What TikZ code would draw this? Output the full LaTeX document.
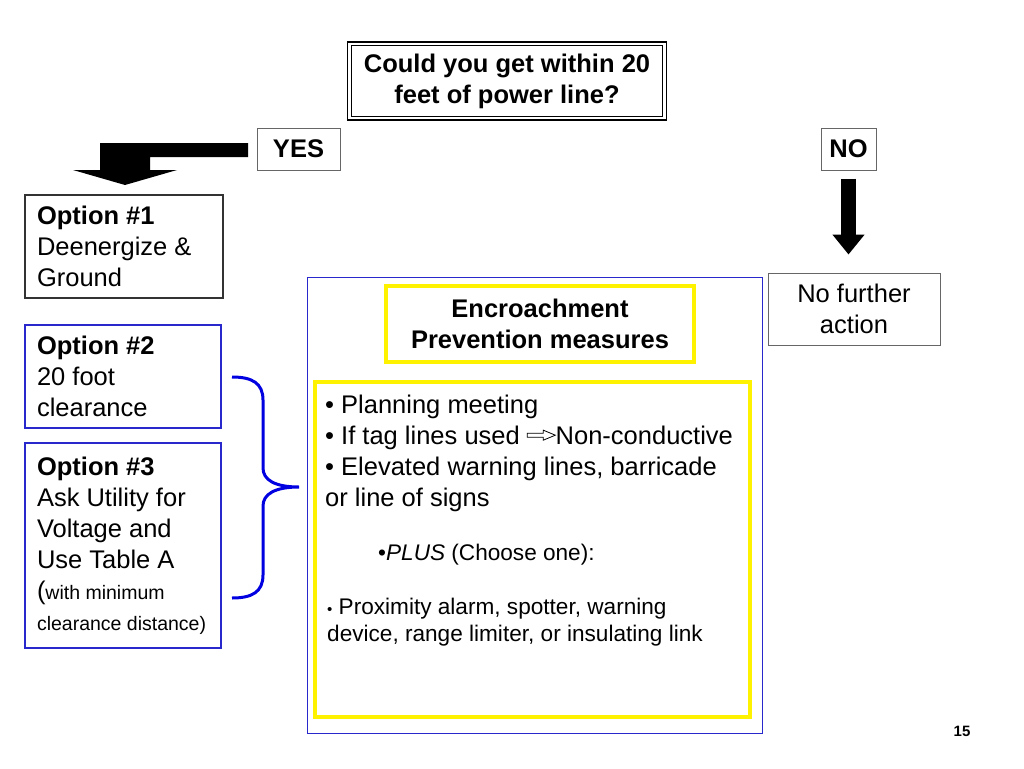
\documentclass[tikz,border=0pt]{standalone}
\usepackage{fontspec}
\setmainfont{Liberation Sans}
\usetikzlibrary{arrows.meta}
\definecolor{optblue}{RGB}{40,40,205}
\definecolor{bracecol}{RGB}{0,0,225}
\newcommand{\bodysize}{\fontsize{25.5}{31}\selectfont}
\newcommand{\smallsize}{\fontsize{22.6}{27.5}\selectfont}
\newcommand{\tinysize}{\fontsize{19.5}{31}\selectfont}
\newcommand{\hollowarrow}{\tikz[baseline={(0,9)}]{\draw[line width=0.8pt] (0,-2) -- (16,-2) -- (16,-5) -- (28,0) -- (16,5) -- (16,2) -- (0,2) -- cycle;}}
\tikzset{every picture/.style={x=1pt,y=-1pt,every node/.style={font=\bodysize,inner sep=0pt}},
  graybox/.style={draw=black!60, line width=1pt},
  optbox/.style={draw=optblue, line width=1.2pt, text width=172pt, inner xsep=12pt, align=flush left},
  yellowbox/.style={draw=yellow, line width=4pt},
  txt/.style={anchor=north west, align=left}}

\begin{document}
\begin{tikzpicture}
            \useasboundingbox (0,0) rectangle (1024,768);

            % question and answers
            \node[draw, double, line width=1.2pt, double distance=2.6pt, minimum width=315pt, minimum height=74pt,
                  align=center, font=\bodysize\bfseries] (q) at (507,81) {Could you get within 20\\feet of power line?};
            \node[graybox, minimum width=83pt, minimum height=42pt, font=\bodysize\bfseries] (yes) at (298.5,149) {YES};
            \node[graybox, minimum width=55pt, minimum height=42pt, font=\bodysize\bfseries] (no) at (848.5,149) {NO};

            % options
            \node[optbox, draw=black!80, text width=174pt, minimum height=103pt] (opt1) at (124,246.5) {\textbf{Option \#1}\\Deenergize \&\\Ground};
            \node[optbox, minimum height=103pt] (opt2) at (123,376.5) {\textbf{Option \#2}\\20 foot\\clearance};
            \node[optbox, minimum height=205pt] (opt3) at (123,545.5) {\textbf{Option \#3}\\Ask Utility for\\Voltage and\\Use Table A\\({\tinysize with minimum}\\{\tinysize\mbox{clearance distance)}}};
            \node[graybox, minimum width=172pt, minimum height=72pt, align=center] (nofurther) at (854,309) {No further\\action};

            % measures
            \node[draw=optblue, line width=1pt, minimum width=455pt, minimum height=456pt] (area) at (534.5,505) {};
            \node[yellowbox, minimum width=308pt, minimum height=76pt, align=center, font=\bodysize\bfseries] (enc) at (540,324) {Encroachment\\Prevention measures};
            \node[yellowbox, minimum width=435pt, minimum height=335pt] (meas) at (532.5,549.5) {};
            \node[txt] (m1) at (325,394.5) {• Planning meeting\\• If tag lines used \hollowarrow Non-conductive\\• Elevated warning lines, barricade\\or line of signs};
            \node[txt, font=\smallsize] (m2) at (378,543.5) {•\textit{PLUS} (Choose one):};
            \node[txt, font=\smallsize] (m3) at (327,597.5) {{\fontsize{15}{27.5}\selectfont •} Proximity alarm, spotter, warning\\device, range limiter, or insulating link};

            \node[font=\fontsize{15}{18}\selectfont\bfseries] (page) at (962,731) {15};

            % arrows
            \fill (248,143) -- (100,143) -- (100,170) -- (73,170) -- (125,185) -- (177,170) -- (150,170) -- (150,157) -- (248,157) -- cycle;
            \draw[line width=15pt, -{Triangle[length=20pt,width=31pt]}, shorten <=8pt, shorten >=18pt] (no.south) -- (no.south |- nofurther.north);

            % brace
            \draw[bracecol, line width=3pt] (232,377) .. controls (252,377) and (263,383) .. (263,400) -- (263,468)
              .. controls (263,480) and (275,487) .. (299,487) .. controls (275,487) and (263,494) .. (263,506)
              -- (263,575) .. controls (263,592) and (252,598) .. (232,598);
        \end{tikzpicture}
\end{document}
